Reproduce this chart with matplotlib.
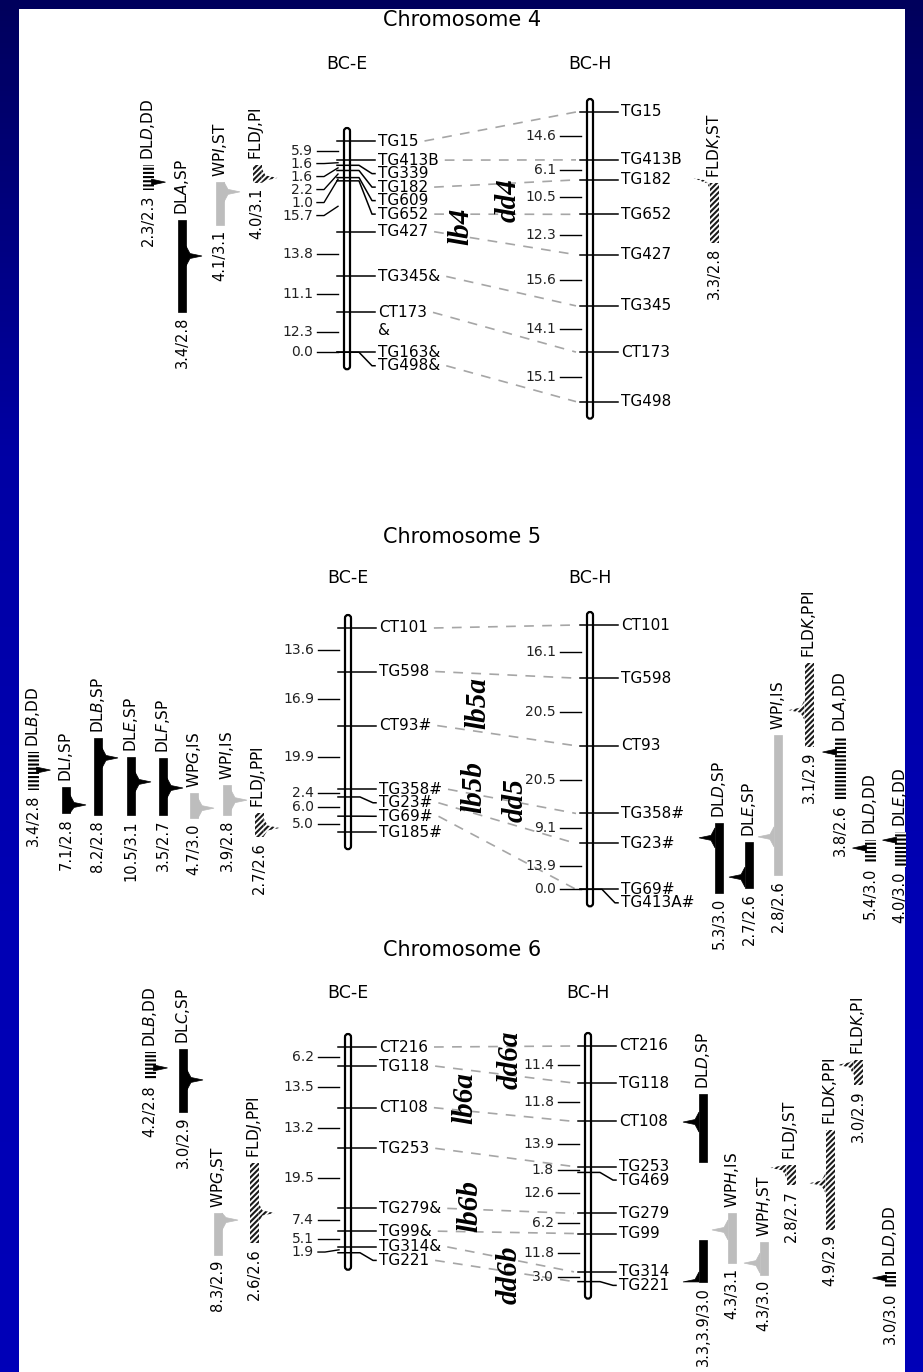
import numpy as np
import matplotlib.pyplot as plt
from matplotlib.patches import FancyBboxPatch, Rectangle, Polygon
from matplotlib.colors import LinearSegmentedColormap

plt.rcParams['font.family'] = ['DejaVu Sans']
plt.rcParams['mathtext.fontset'] = 'dejavusans'
plt.rcParams['hatch.linewidth'] = 1.5
plt.rcParams['lines.scale_dashes'] = False

# ---------------- data ----------------
# linkage maps: marker names and the cM distances between neighbours
c4e_markers = ["TG15", "TG413B", "TG339", "TG182", "TG609", "TG652", "TG427",
               "TG345&", "CT173\n&", "TG163&", "TG498&"]
c4e_cm = [5.9, 1.6, 1.6, 2.2, 1.0, 15.7, 13.8, 11.1, 12.3, 0.0]
c4h_markers = ["TG15", "TG413B", "TG182", "TG652", "TG427", "TG345", "CT173", "TG498"]
c4h_cm = [14.6, 6.1, 10.5, 12.3, 15.6, 14.1, 15.1]

c5e_markers = ["CT101", "TG598", "CT93#", "TG358#", "TG23#", "TG69#", "TG185#"]
c5e_cm = [13.6, 16.9, 19.9, 2.4, 6.0, 5.0]
c5h_markers = ["CT101", "TG598", "CT93", "TG358#", "TG23#", "TG69#", "TG413A#"]
c5h_cm = [16.1, 20.5, 20.5, 9.1, 13.9, 0.0]

c6e_markers = ["CT216", "TG118", "CT108", "TG253", "TG279&", "TG99&", "TG314&", "TG221"]
c6e_cm = [6.2, 13.5, 13.2, 19.5, 7.4, 5.1, 1.9]
c6h_markers = ["CT216", "TG118", "CT108", "TG253", "TG469", "TG279", "TG99", "TG314", "TG221"]
c6h_cm = [11.4, 11.8, 13.9, 1.8, 12.6, 6.2, 11.8, 3.0]

# QTLs: trait, LOD text, (start, peak, end) in cM along the neighbouring map
c4_left_traits = ["DLD,DD", "DLA,SP", "WPI,ST", "FLDJ,PI"]
c4_left_lod = ["2.3/2.3", "3.4/2.8", "4.1/3.1", "4.0/3.1"]
c4_left_span = [[(7.4, 12.7, 15.1)], [(24.4, 35.5, 52.8)], [(12.7, 15.7, 25.9)], [(7.4, 11.4, 13.0)]]
c4_right_traits = ["FLDK,ST"]
c4_right_lod = ["3.3/2.8"]
c4_right_span = [[(21.6, 20.1, 39.9)]]

c5_left_traits = ["DLB,DD", "DLI,SP", "DLB,SP", "DLE,SP", "DLF,SP", "WPG,IS", "WPI,IS", "FLDJ,PPI"]
c5_left_lod = ["3.4/2.8", "7.1/2.8", "8.2/2.8", "10.5/3.1", "3.5/2.7", "4.7/3.0", "3.9/2.8", "2.7/2.6"]
c5_left_span = [[(38.8, 44.4, 50.6)], [(49.7, 55.3, 57.8)], [(34.4, 40.6, 58.4)],
                [(40.3, 48.1, 58.4)], [(40.6, 50.0, 58.4)], [(51.6, 56.3, 59.4)],
                [(49.1, 53.8, 58.4)], [(57.8, 62.5, 65.3)]]
c5_right_traits = ["DLD,SP", "DLE,SP", "WPI,IS", "FLDK,PPI", "DLA,DD", "DLD,DD", "DLE,DD"]
c5_right_lod = ["5.3/3.0", "2.7/2.6", "2.8/2.6", "3.1/2.9", "3.8/2.6", "5.4/3.0", "4.0/3.0"]
c5_right_span = [[(60.0, 64.5, 81.2)], [(65.8, 76.4, 79.7)], [(33.3, 64.2, 75.8)],
                 [(11.5, 25.8, 37.0)], [(33.9, 38.5, 53.0)], [(65.2, 67.6, 72.1)],
                 [(62.7, 65.2, 73.3)]]

c6_left_traits = ["DLB,DD", "DLC,SP", "WPG,ST", "FLDJ,PPI"]
c6_left_lod = ["4.2/2.8", "3.0/2.9", "8.3/2.9", "2.6/2.6"]
c6_left_span = [[(1.6, 6.8, 10.7)], [(0.6, 10.7, 21.0)], [(53.9, 56.2, 67.5)], [(37.7, 53.9, 63.6)]]
c6_right_traits = ["DLD,SP", "WPH,IS", "WPH,ST", "FLDJ,ST", "FLDK,PPI", "FLDK,PI", "DLD,DD"]
c6_right_lod = ["3.3,3.9/3.0", "4.3/3.1", "4.3/3.0", "2.8/2.7", "4.9/2.9", "3.0/2.9", "3.0/3.0"]
c6_right_span = [[(14.8, 23.4, 35.7), (59.7, 72.6, 72.6)], [(51.4, 56.6, 66.8)],
                 [(60.3, 66.8, 70.5)], [(36.6, 37.5, 42.8)], [(25.8, 42.2, 56.6)],
                 [(4.3, 5.8, 12.0)], [(69.5, 71.4, 74.5)]]

# ---------------- layout ----------------
chroms = [
    dict(title="Chromosome 4", title_y=20, head_y=64,
         e=(c4e_markers, c4e_cm), h=(c4h_markers, c4h_cm),
         xe=347, xh=590, e0=141, es=3.24, h0=112, hs=3.28,
         left=(c4_left_traits, c4_left_lod, c4_left_span, [148, 182, 220, 257]),
         right=(c4_right_traits, c4_right_lod, c4_right_span, [714]),
         names=[("lb4", 461, 226), ("dd4", 508, 200)]),
    dict(title="Chromosome 5", title_y=537, head_y=578,
         e=(c5e_markers, c5e_cm), h=(c5h_markers, c5h_cm),
         xe=348, xh=590, e0=628, es=3.2, h0=625, hs=3.3,
         left=(c5_left_traits, c5_left_lod, c5_left_span, [33, 66, 98, 131, 163, 194, 227, 259]),
         right=(c5_right_traits, c5_right_lod, c5_right_span, [719, 749, 778, 809, 840, 870, 900]),
         names=[("lb5a", 478, 703), ("lb5b", 474, 787), ("dd5", 515, 800)]),
    dict(title="Chromosome 6", title_y=950, head_y=993,
         e=(c6e_markers, c6e_cm), h=(c6h_markers, c6h_cm),
         xe=348, xh=588, e0=1047, es=3.08, h0=1046, hs=3.25,
         left=(c6_left_traits, c6_left_lod, c6_left_span, [150, 183, 218, 254]),
         right=(c6_right_traits, c6_right_lod, c6_right_span, [703, 732, 764, 791, 830, 858, 890]),
         names=[("dd6a", 510, 1060), ("lb6a", 465, 1098), ("lb6b", 470, 1206), ("dd6b", 509, 1275)]),
]

W, H = 923, 1372
fig = plt.figure(figsize=(W / 100, H / 100), dpi=100)
ax = fig.add_axes([0, 0, 1, 1])
ax.set_xlim(0, W)
ax.set_ylim(H, 0)
ax.axis('off')

# blue slide frame
grad = np.linspace(0, 1, 256).reshape(-1, 1)
blue = LinearSegmentedColormap.from_list('b', ['#00005c', '#0000a4', '#0000b4', '#0000b8'])
ax.imshow(grad, extent=(0, W, H, 0), cmap=blue, aspect='auto', zorder=0)
ax.add_patch(Rectangle((19, 9), 886, H - 9, fc='white', ec='none', zorder=1))


def spread(ys, gap):
    out = []
    for y in ys:
        if out and y < out[-1] + gap:
            y = out[-1] + gap
        out.append(y)
    return np.array(out)


def draw_map(x, y0, scale, names, dists):
    pos = y0 + scale * np.concatenate([[0.0], np.cumsum(dists)])
    top, bot = pos[0] - 13, pos[-1] + 17
    ax.add_patch(FancyBboxPatch((x - 3, top), 6, bot - top,
                                boxstyle='round,pad=0,rounding_size=3',
                                fc='white', ec='black', lw=1.6, zorder=3))
    labs = spread(pos, 13.5)
    texts = []
    for p, ly, nm in zip(pos, labs, names):
        ax.plot([x - 10, x + 12, x + 25, x + 28], [p, p, ly, ly], color='black', lw=1.1, zorder=4)
        t = None
        for i, ln in enumerate(nm.split('\n')):
            tt = ax.text(x + 31, ly + i * 18, ln, fontsize=11, va='center', ha='left', zorder=4)
            if t is None:
                t = tt
        texts.append(t)
    mids = (pos[:-1] + pos[1:]) / 2
    dlabs = spread(mids, 13)
    for m, ly, d in zip(mids, dlabs, dists):
        ax.plot([x - 30, x - 23, x - 9], [ly, ly, m], color='black', lw=1.0, zorder=4)
        ax.text(x - 34, ly, f"{d:.1f}", fontsize=10, va='center', ha='right', color='#222222')
    return pos, labs, texts


def qtl_label(s):
    k = s.index(',')
    return s[:k - 1] + r'$\mathit{' + s[k - 1] + '}$' + s[k:]


def style_of(trait):
    if trait.startswith('FLD'):
        return 'hatch'
    if trait.startswith('WP'):
        return 'gray'
    if trait.endswith('DD'):
        return 'ladder'
    return 'solid'


def draw_qtl(x, spans, side, trait, lod):
    st = style_of(trait)
    w = {'ladder': 11, 'hatch': 9}.get(st, 8)
    if st == 'solid':
        kw = dict(fc='black', ec='black', lw=0.5)
    elif st == 'gray':
        kw = dict(fc='#bdbdbd', ec='#bdbdbd', lw=0.5)
    elif st == 'hatch':
        kw = dict(fc='white', ec='#1a1a1a', lw=0, hatch='//////')
    else:
        kw = dict(fc='white', ec='black', lw=0, hatch='----')
    for yt, yp, yb in spans:
        ax.add_patch(Rectangle((x - w / 2, yt), w, yb - yt, zorder=3, **kw))
        xe = x + side * w / 2
        if st == 'ladder':
            pts = [(xe - side * 2, yp - 3), (xe + side * 12, yp), (xe - side * 2, yp + 3)]
            ax.add_patch(Polygon(pts, closed=True, fc='black', ec='black', lw=0.5, zorder=3))
        else:
            pts = [(xe, max(yp - 10, yt)), (xe + side * 4, max(yp - 2.5, yt)),
                   (xe + side * 16, yp), (xe + side * 4, min(yp + 2.5, yb)),
                   (xe, min(yp + 10, yb))]
            ax.add_patch(Polygon(pts, closed=True, zorder=3, **kw))
    ax.text(x, spans[0][0] - 5, qtl_label(trait), rotation=90, ha='center', va='bottom', fontsize=11)
    ax.text(x, spans[-1][2] + 5, lod, rotation=90, ha='center', va='top', fontsize=10.5)


def key(nm):
    return nm.replace('\n', '').replace('&', '').replace('#', '')


renderer = fig.canvas.get_renderer()
for c in chroms:
    ax.text(462, c['title_y'], c['title'], fontsize=15, ha='center', va='center')
    ax.text(c['xe'], c['head_y'], "BC-E", fontsize=12.5, ha='center', va='center')
    ax.text(c['xh'], c['head_y'], "BC-H", fontsize=12.5, ha='center', va='center')
    pe, le, te = draw_map(c['xe'], c['e0'], c['es'], *c['e'])
    ph, lh, th = draw_map(c['xh'], c['h0'], c['hs'], *c['h'])
    # dashed lines joining shared markers
    hkeys = [key(n) for n in c['h'][0]]
    inv = ax.transData.inverted()
    for i, nm in enumerate(c['e'][0]):
        if key(nm) in hkeys:
            j = hkeys.index(key(nm))
            bb = te[i].get_window_extent(renderer)
            x0 = inv.transform((bb.x1, bb.y0))[0] + 6
            ax.plot([x0, c['xh'] - 14], [le[i], ph[j]], color='#a6a6a6', lw=1.2,
                    linestyle=(0, (7, 6)), zorder=2)
    # QTL bars
    for side, (traits, lods, spans, xs), y0, sc in [(1, c['left'], c['e0'], c['es']),
                                                    (-1, c['right'], c['h0'], c['hs'])]:
        for tr, lo, sp, xx in zip(traits, lods, spans, xs):
            px = [(y0 + a * sc, y0 + b * sc, y0 + d * sc) for a, b, d in sp]
            draw_qtl(xx, px, side, tr, lo)
    for s, xx, yy in c['names']:
        ax.text(xx, yy, s, rotation=90, ha='center', va='center', fontsize=21,
                family='Liberation Serif', weight='bold', style='italic')

fig.savefig('out.png', dpi=100)
